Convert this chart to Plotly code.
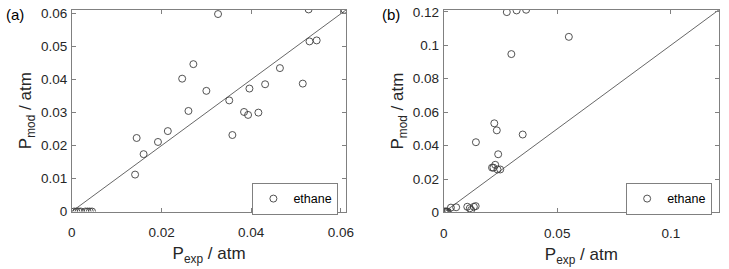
import plotly.graph_objects as go

# ---- data (a) ----
a_exp = [0.0326, 0.0528, 0.0530, 0.0546, 0.0271, 0.0246, 0.0464, 0.0300, 0.0351,
         0.0431, 0.0396, 0.0515, 0.0260, 0.0384, 0.0393, 0.0416, 0.0214, 0.0358,
         0.01445, 0.0192, 0.0160, 0.0141, 0.0608,
         0.0005, 0.0010, 0.0015, 0.0020, 0.0030, 0.0035, 0.0040, 0.0045]
a_mod = [0.0599, 0.0613, 0.0516, 0.0519, 0.0447, 0.0403, 0.0435, 0.0366, 0.0337,
         0.0386, 0.0373, 0.0388, 0.0305, 0.0302, 0.0293, 0.0300, 0.0244, 0.0232,
         0.0223, 0.0211, 0.0174, 0.0112, 0.0612,
         0.0, 0.0, 0.0, 0.0, 0.0, 0.0, 0.0, 0.0]

# ---- data (b) ----
b_exp = [0.0278, 0.0321, 0.0363, 0.0551, 0.0298, 0.0223, 0.0234, 0.0348, 0.0142,
         0.0240, 0.0227, 0.0213, 0.0219, 0.0237, 0.0249,
         0.0032, 0.0055, 0.0104, 0.0115, 0.0121, 0.0133, 0.0141,
         0.0003, 0.0006, 0.0009, 0.0012, 0.0015, 0.0018]
b_mod = [0.1198, 0.1208, 0.1212, 0.1050, 0.0947, 0.0533, 0.0491, 0.0466, 0.0420,
         0.0348, 0.0285, 0.0268, 0.0268, 0.0257, 0.0257,
         0.0029, 0.0031, 0.0034, 0.0025, 0.0015, 0.0034, 0.0038,
         0.0005, 0.0005, 0.0005, 0.0005, 0.0005, 0.0005]

a_range = [0, 0.0612]
b_range = [0, 0.1212]

a_xticks = [0, 0.02, 0.04, 0.06]
a_xtext = ["0", "0.02", "0.04", "0.06"]
a_yticks = [0, 0.01, 0.02, 0.03, 0.04, 0.05, 0.06]
a_ytext = ["0", "0.01", "0.02", "0.03", "0.04", "0.05", "0.06"]
b_xticks = [0, 0.05, 0.1]
b_xtext = ["0", "0.05", "0.1"]
b_yticks = [0, 0.02, 0.04, 0.06, 0.08, 0.1, 0.12]
b_ytext = ["0", "0.02", "0.04", "0.06", "0.08", "0.1", "0.12"]

FONT = "Liberation Sans, Arial, sans-serif"
TXT = "#262626"
AX = "#808080"

fig = go.Figure()

marker = dict(symbol="circle-open", size=7, color="#404040", line=dict(width=0.9, color="#404040"))

fig.add_trace(go.Scatter(x=a_range, y=a_range, mode="lines", line=dict(color="#404040", width=0.8),
                         showlegend=False, xaxis="x", yaxis="y", hoverinfo="skip"))
fig.add_trace(go.Scatter(x=a_exp, y=a_mod, mode="markers", marker=marker, name="ethane",
                         xaxis="x", yaxis="y", legend="legend"))
fig.add_trace(go.Scatter(x=b_range, y=b_range, mode="lines", line=dict(color="#404040", width=0.8),
                         showlegend=False, xaxis="x2", yaxis="y2", hoverinfo="skip"))
fig.add_trace(go.Scatter(x=b_exp, y=b_mod, mode="markers", marker=marker, name="ethane",
                         xaxis="x2", yaxis="y2", legend="legend2"))

W, H = 729, 269
def fx(p): return p / W
def fy(p): return 1 - p / H

axis_common = dict(showgrid=False, zeroline=False, showline=True, linecolor=AX, linewidth=1,
                   mirror="ticks", ticks="inside", ticklen=4, tickcolor=AX, tickwidth=1,
                   tickfont=dict(family=FONT, size=13.5, color=TXT))

xt = dict(text="P<sub>exp</sub> / atm", font=dict(size=17, color=TXT), standoff=8)
yt = dict(text="P<sub>mod</sub> / atm", font=dict(size=17, color=TXT), standoff=4)

fig.update_layout(
    width=W, height=H, margin=dict(l=0, r=0, t=0, b=0),
    paper_bgcolor="white", plot_bgcolor="white",
    font=dict(family=FONT, color=TXT),
    xaxis=dict(domain=[fx(69), fx(348)], range=a_range, tickvals=a_xticks, ticktext=a_xtext,
               title=xt, ticklabelstandoff=8, anchor="y", **axis_common),
    yaxis=dict(domain=[fy(217), fy(5)], range=a_range, tickvals=a_yticks, ticktext=a_ytext,
               title=yt, ticklabelstandoff=1, anchor="x", **axis_common),
    xaxis2=dict(domain=[fx(447), fx(727)], range=b_range, tickvals=b_xticks, ticktext=b_xtext,
                title=xt, ticklabelstandoff=8, anchor="y2", **axis_common),
    yaxis2=dict(domain=[fy(218), fy(5)], range=b_range, tickvals=b_yticks, ticktext=b_ytext,
                title=yt, ticklabelstandoff=1, anchor="x2", **axis_common),
    legend=dict(x=fx(340), y=fy(187), xanchor="right", yanchor="top", itemwidth=30,
                bordercolor=AX, borderwidth=1, bgcolor="white",
                font=dict(family=FONT, size=12.5, color="black")),
    legend2=dict(x=fx(720), y=fy(187), xanchor="right", yanchor="top", itemwidth=30,
                 bordercolor=AX, borderwidth=1, bgcolor="white",
                 font=dict(family=FONT, size=12.5, color="black")),
    annotations=[
        dict(text="(a)", x=0, y=fy(10), xref="paper", yref="paper", xanchor="left", yanchor="middle",
             showarrow=False, font=dict(family=FONT, size=15, color="black")),
        dict(text="(b)", x=fx(382), y=fy(10), xref="paper", yref="paper", xanchor="left", yanchor="middle",
             showarrow=False, font=dict(family=FONT, size=15, color="black")),
    ],
)

fig.write_html("out.html")
